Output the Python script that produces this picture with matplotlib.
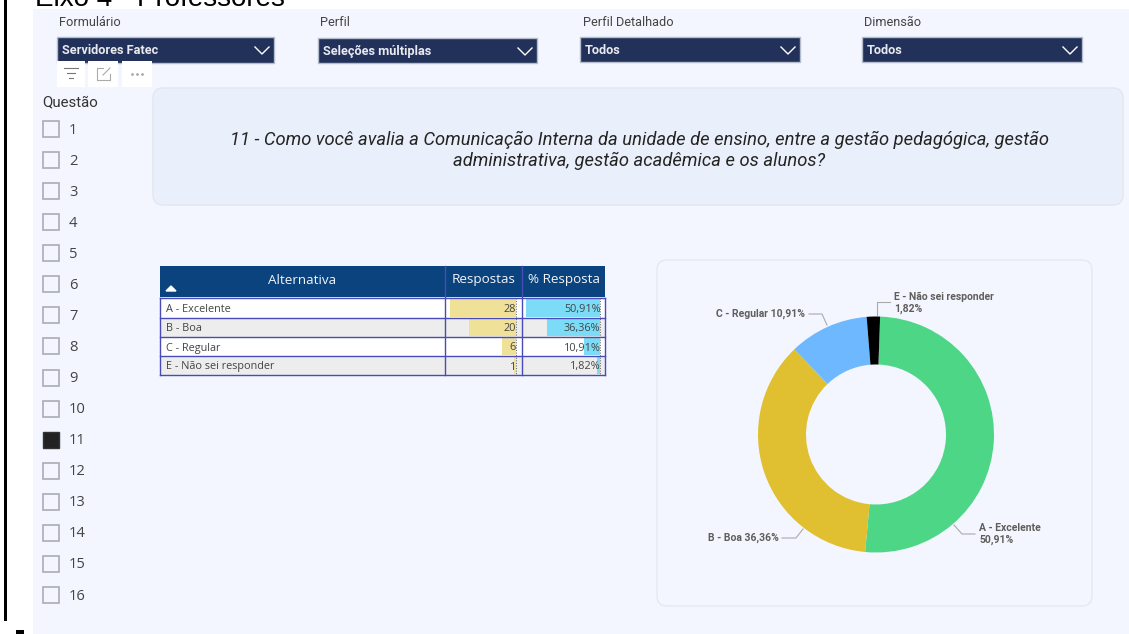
import numpy as np
import matplotlib
matplotlib.use("Agg")
import matplotlib.pyplot as plt
from matplotlib.patches import Rectangle, FancyBboxPatch

# data
alternativas = ['A - Excelente', 'B - Boa', 'C - Regular', 'E - Não sei responder']
respostas = [28, 20, 6, 1]
percentuais = [50.91, 36.36, 10.91, 1.82]
perc_labels = ['50,91%', '36,36%', '10,91%', '1,82%']
cores = ['#4DD686', '#E0C030', '#6DB8FF', '#000000']
questoes = [str(i) for i in range(1, 17)]
questao_marcada = '11'
filtros = ['Formulário', 'Perfil', 'Perfil Detalhado', 'Dimensão']
filtros_valor = ['Servidores Fatec', 'Seleções múltiplas', 'Todos', 'Todos']
pergunta = ('11 - Como você avalia a Comunicação Interna da unidade de ensino, entre a gestão pedagógica, gestão\n'
            'administrativa, gestão acadêmica e os alunos?')

W, H = 1129, 634
fig = plt.figure(figsize=(W/100, H/100), dpi=100, facecolor='white')
ax = fig.add_axes([0, 0, 1, 1])
ax.set_xlim(0, W)
ax.set_ylim(H, 0)
ax.axis('off')

DIN = 'Roboto'
TAB = 'Open Sans'

def box(x0, y0, x1, y1, fc, ec='none', lw=1, z=1):
    ax.add_patch(Rectangle((x0, y0), x1-x0, y1-y0, fc=fc, ec=ec, lw=lw, zorder=z))

def card(x0, y0, x1, y1, fc, ec, r=10):
    ax.add_patch(FancyBboxPatch((x0+r, y0+r), x1-x0-2*r, y1-y0-2*r,
                                boxstyle='round,pad=%d,rounding_size=%d' % (r, r),
                                fc=fc, ec=ec, lw=1, zorder=2))

# page
box(33, 9, W, H, '#F3F6FE')
box(4, 0, 7, 621, 'black')
box(16, 630, 24, H, 'black')
ax.text(35, 6, 'Eixo 4 - Professores', fontsize=20, family='Liberation Sans', va='baseline', color='black')

# dropdowns
drop_x = [(57, 274), (318, 537), (580, 800), (862, 1082)]
drop_y = [(37, 63), (38, 63), (37, 62), (37, 62)]
tit_y = [22, 23, 22, 22]
tit_x = [59, 320, 583, 864]
for i in range(4):
    x0, x1 = drop_x[i]
    y0, y1 = drop_y[i]
    box(x0, y0, x1, y1, '#22315A', ec='#B4BBCB', lw=1, z=3)
    ax.text(tit_x[i], tit_y[i], filtros[i], fontsize=9.2, family=DIN, color='#444444', va='center')
    ax.text(x0+5, (y0+y1)/2+0.5, filtros_valor[i], fontsize=9.2, family=DIN, weight='bold', color='#E8EAF0', va='center', zorder=4)
    ax.plot([x1-19, x1-12, x1-5], [y0+10, y0+17, y0+10], color='white', lw=1, zorder=4)

# little icons under the first dropdown
for x0, x1 in [(57, 85), (88, 118), (122, 152)]:
    box(x0, 61, x1, 87, 'white', z=5)
ax.plot([64, 78], [68, 68], color='#777777', lw=0.8, zorder=6)
ax.plot([67, 75], [73, 73], color='#777777', lw=0.8, zorder=6)
ax.plot([69, 73], [78, 78], color='#777777', lw=0.8, zorder=6)
ax.plot([103, 97, 97, 110, 110], [68, 68, 80, 80, 74], color='#AAAAAA', lw=0.8, zorder=6)
ax.plot([103, 110], [75, 68], color='#AAAAAA', lw=0.8, zorder=6)
ax.plot([132, 137, 142], [74, 74, 74], ls='none', marker='o', ms=1.0, color='#AAAAAA', zorder=6)

# slicer
ax.text(42, 102.5, 'Questão', fontsize=10.8, family=DIN, color='#333333', va='center')
for i, q in enumerate(questoes):
    yc = 129 + i*31.07
    if q == questao_marcada:
        box(42.5, yc-8, 59, yc+8, '#222222', ec='#333333', z=3)
    else:
        box(42.5, yc-8, 59, yc+8, 'none', ec='#ABABB3', lw=1.2, z=3)
    ax.text(69, yc+1, q, fontsize=10.6, family=TAB, color='#444444', va='center')

# question box
card(153, 88, 1123, 205, '#EAF0FB', '#E4E6EE')
ax.text(639, 150, pergunta, fontsize=13.2, family=DIN, style='italic', color='#252423',
        ha='center', va='center', linespacing=1.2, zorder=3)

# table
col = [160, 445, 522, 605]
row_y = [298, 317.5, 337, 356, 375]
box(col[0], 266, col[3], 297, '#0A437D', z=3)
cab = ['Alternativa', 'Respostas', '% Resposta']
cab_x = [302, 483.5, 563.5]
for i in range(3):
    ax.text(cab_x[i], 280, cab[i], fontsize=9.7, family=TAB, color='#F2F4F8', ha='center', va='center', zorder=4)
ax.fill([166, 171, 176], [291, 286, 291], color='white', zorder=4)

esc_r = 66/max(respostas)
esc_p = 74/max(percentuais)
for i in range(4):
    y0, y1 = row_y[i], row_y[i+1]
    box(col[0], y0, col[3], y1, 'white' if i % 2 == 0 else '#EDEDED', z=2)
    box(516-respostas[i]*esc_r, y0+1, 516, y1-1, '#F0E199', z=3)
    box(600-percentuais[i]*esc_p, y0+1, 600, y1-1, '#7CDCF7', z=3)
    ym = (y0+y1)/2 + 1.5
    ax.text(166, ym, alternativas[i], fontsize=7.8, family=TAB, color='#444444', va='center', zorder=5)
    ax.text(516, ym, str(respostas[i]), fontsize=7.8, family=TAB, color='#444444', ha='right', va='center', zorder=5)
    ax.text(600.5, ym, perc_labels[i], fontsize=7.8, family=TAB, color='#444444', ha='right', va='center', zorder=5)
ax.plot([516, 516], [298, 375], color='#666666', lw=0.7, ls=':', zorder=6)
ax.plot([600, 600], [298, 375], color='#666666', lw=0.7, ls=':', zorder=6)
for y in row_y:
    ax.plot([col[0], col[3]], [y, y], color='#4A4AB8', lw=1, zorder=6)
for x in col:
    ax.plot([x, x], [266 if x in col[1:3] else 298, 375], color='#4A4AB8', lw=1, zorder=6)

# donut card
card(657, 260, 1092, 606, '#F3F6FE', '#E6E8F0')

cx, cy, R = 876, 434.5, 118
pad = 1.02
ax2 = fig.add_axes([(cx-R*pad)/W, 1-(cy+R*pad)/H, 2*R*pad/W, 2*R*pad/H])
ax2.pie(percentuais, colors=cores, startangle=88, counterclock=False, radius=1,
        wedgeprops={'width': 48/118, 'linewidth': 0})
ax2.set_xlim(-pad, pad)
ax2.set_ylim(-pad, pad)
ax2.patch.set_alpha(0)

# donut labels
lb = dict(fontsize=7.5, family=DIN, weight='bold', color='#605E5C', zorder=7)
ln = dict(color='#AAAAAA', lw=0.8, zorder=7)
ax.plot([809, 822, 827], [314, 314, 325], **ln)
ax.text(716, 314, 'C - Regular 10,91%', va='center', **lb)
ax.plot([877, 877, 890], [315, 302, 302], **ln)
ax.text(894, 297, 'E - Não sei responder', va='center', **lb)
ax.text(894, 309, '1,82%', va='center', **lb)
ax.plot([782, 796, 803], [538, 538, 529], **ln)
ax.text(708, 538, 'B - Boa 36,36%', va='center', **lb)
ax.plot([954, 962, 975], [525, 534, 534], **ln)
ax.text(979, 528, 'A - Excelente', va='center', **lb)
ax.text(979, 540, '50,91%', va='center', **lb)

fig.savefig('out.png', dpi=100)
